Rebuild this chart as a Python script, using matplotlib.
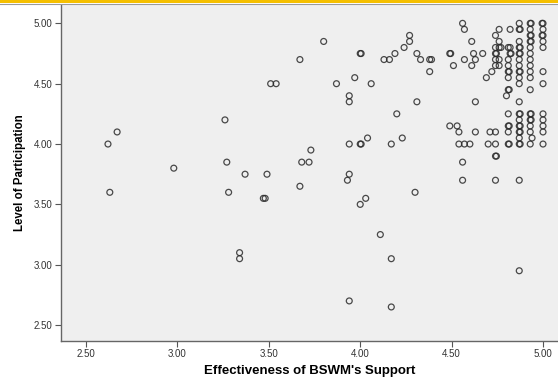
import matplotlib
matplotlib.use("Agg")
import matplotlib.pyplot as plt
from matplotlib.patches import Rectangle
from matplotlib.lines import Line2D

# scatter values (bold circles = repeated points)
support = [
    2.62, 2.67, 2.63, 2.98, 3.26, 3.27, 3.28, 3.37, 3.49, 3.47, 3.48, 3.51, 3.54, 3.34, 3.34,
    3.67, 3.80, 3.87, 3.97, 4.06, 3.94, 3.94, 4.31, 4.20,
    3.94, 4.00, 4.005, 4.04, 4.17, 4.23, 3.73, 3.68, 3.72, 3.94, 3.93, 3.67, 4.03, 4.00, 4.30,
    4.11, 4.17, 3.94, 4.17, 4.87,
    4.27, 4.27, 4.24, 4.19, 4.00, 4.005, 4.13, 4.16, 4.31, 4.33, 4.38, 4.39, 4.38,
    4.49, 4.495, 4.51, 4.57, 4.61, 4.62, 4.63, 4.61, 4.67, 4.69, 4.72, 4.74, 4.56, 4.57,
    4.63, 4.49, 4.53, 4.54, 4.63, 4.71, 4.74, 4.54, 4.57, 4.60, 4.70, 4.74, 4.74, 4.745,
    4.56, 4.56, 4.74, 4.87,
    # dense block on the right
    4.87, 4.93, 4.935, 5.00, 4.995,
    4.76, 4.82, 4.87, 4.875, 4.93, 5.00,
    4.93, 4.935, 5.00, 4.995,
    4.76, 4.87, 4.93, 4.935, 5.00,
    4.74, 4.76, 4.77, 4.81, 4.82, 4.87, 4.875, 4.93, 5.00,
    4.74, 4.745, 4.82, 4.825, 4.87, 4.875, 4.93,
    4.74, 4.76, 4.81, 4.87, 4.93,
    4.74, 4.76, 4.81, 4.87, 4.93,
    4.81, 4.815, 4.87, 4.875, 4.93, 5.00,
    4.81, 4.87, 4.93,
    4.87, 5.00,
    4.81, 4.815, 4.93,
    4.80,
    4.87,
    4.81, 4.87, 4.875, 4.93, 4.935, 5.00,
    4.87, 4.93, 4.935, 5.00,
    4.81, 4.815, 4.87, 4.875, 4.93, 5.00,
    4.81, 4.87, 4.875, 4.93, 5.00,
    4.87, 4.94,
    4.81, 4.815, 4.87, 4.875, 4.93, 5.00,
]
participation = [
    4.00, 4.10, 3.60, 3.80, 4.20, 3.85, 3.60, 3.75, 3.75, 3.55, 3.55, 4.50, 4.50, 3.10, 3.05,
    4.70, 4.85, 4.50, 4.55, 4.50, 4.40, 4.35, 4.35, 4.25,
    4.00, 4.00, 4.00, 4.05, 4.00, 4.05, 3.95, 3.85, 3.85, 3.75, 3.70, 3.65, 3.55, 3.50, 3.60,
    3.25, 3.05, 2.70, 2.65, 2.95,
    4.90, 4.85, 4.80, 4.75, 4.75, 4.75, 4.70, 4.70, 4.75, 4.70, 4.70, 4.70, 4.60,
    4.75, 4.75, 4.65, 4.70, 4.85, 4.75, 4.70, 4.65, 4.75, 4.55, 4.60, 4.90, 5.00, 4.95,
    4.35, 4.15, 4.15, 4.10, 4.10, 4.10, 4.10, 4.00, 4.00, 4.00, 4.00, 4.00, 3.90, 3.90,
    3.85, 3.70, 3.70, 3.70,
    5.00, 5.00, 5.00, 5.00, 5.00,
    4.95, 4.95, 4.95, 4.95, 4.95, 4.95,
    4.90, 4.90, 4.90, 4.90,
    4.85, 4.85, 4.85, 4.85, 4.85,
    4.80, 4.80, 4.80, 4.80, 4.80, 4.80, 4.80, 4.80, 4.80,
    4.75, 4.75, 4.75, 4.75, 4.75, 4.75, 4.75,
    4.70, 4.70, 4.70, 4.70, 4.70,
    4.65, 4.65, 4.65, 4.65, 4.65,
    4.60, 4.60, 4.60, 4.60, 4.60, 4.60,
    4.55, 4.55, 4.55,
    4.50, 4.50,
    4.45, 4.45, 4.45,
    4.40,
    4.35,
    4.25, 4.25, 4.25, 4.25, 4.25, 4.25,
    4.20, 4.20, 4.20, 4.20,
    4.15, 4.15, 4.15, 4.15, 4.15, 4.15,
    4.10, 4.10, 4.10, 4.10, 4.10,
    4.05, 4.05,
    4.00, 4.00, 4.00, 4.00, 4.00, 4.00,
]

ticks = [2.50, 3.00, 3.50, 4.00, 4.50, 5.00]
tick_labels = ["2.50", "3.00", "3.50", "4.00", "4.50", "5.00"]

plt.rcParams['font.family'] = ['Liberation Sans', 'DejaVu Sans']

fig = plt.figure(figsize=(5.58, 3.77), dpi=100, facecolor='white')
ax = fig.add_axes([61/558, 36/377, 497/558, 336/377])
ax.set_facecolor('#efefef')

ax.scatter(support, participation, s=18, facecolors='none',
           edgecolors='#2b2b2b', linewidths=0.9, alpha=0.85, zorder=3)

ax.set_xlim(2.363, 5.082)
ax.set_ylim(2.368, 5.152)
ax.set_xticks(ticks)
ax.set_xticklabels(tick_labels)
ax.set_yticks(ticks)
ax.set_yticklabels(tick_labels)
ax.tick_params(direction='out', length=4, width=0.8, color='#555555',
               labelsize=7, labelcolor='#333333', pad=2)

for side in ['top', 'right']:
    ax.spines[side].set_visible(False)
for side in ['left', 'bottom']:
    ax.spines[side].set_color('#666666')
    ax.spines[side].set_linewidth(1.0)

ax.set_xlabel("Effectiveness of BSWM's Support", fontsize=9.5, fontweight='bold', labelpad=4)
ax.set_ylabel("Level of Participation", fontsize=8.3, fontweight='bold', labelpad=6)

# header band at the very top of the slide
fig.add_artist(Rectangle((0, 1 - 2.5/377), 1, 2.5/377, transform=fig.transFigure,
                         facecolor='#f5bf00', edgecolor='none'))
fig.add_artist(Line2D([0, 1], [1 - 3.5/377, 1 - 3.5/377], transform=fig.transFigure,
                      color='#9a9a9a', linewidth=0.8))

fig.savefig('out.png', dpi=100, facecolor='white')
